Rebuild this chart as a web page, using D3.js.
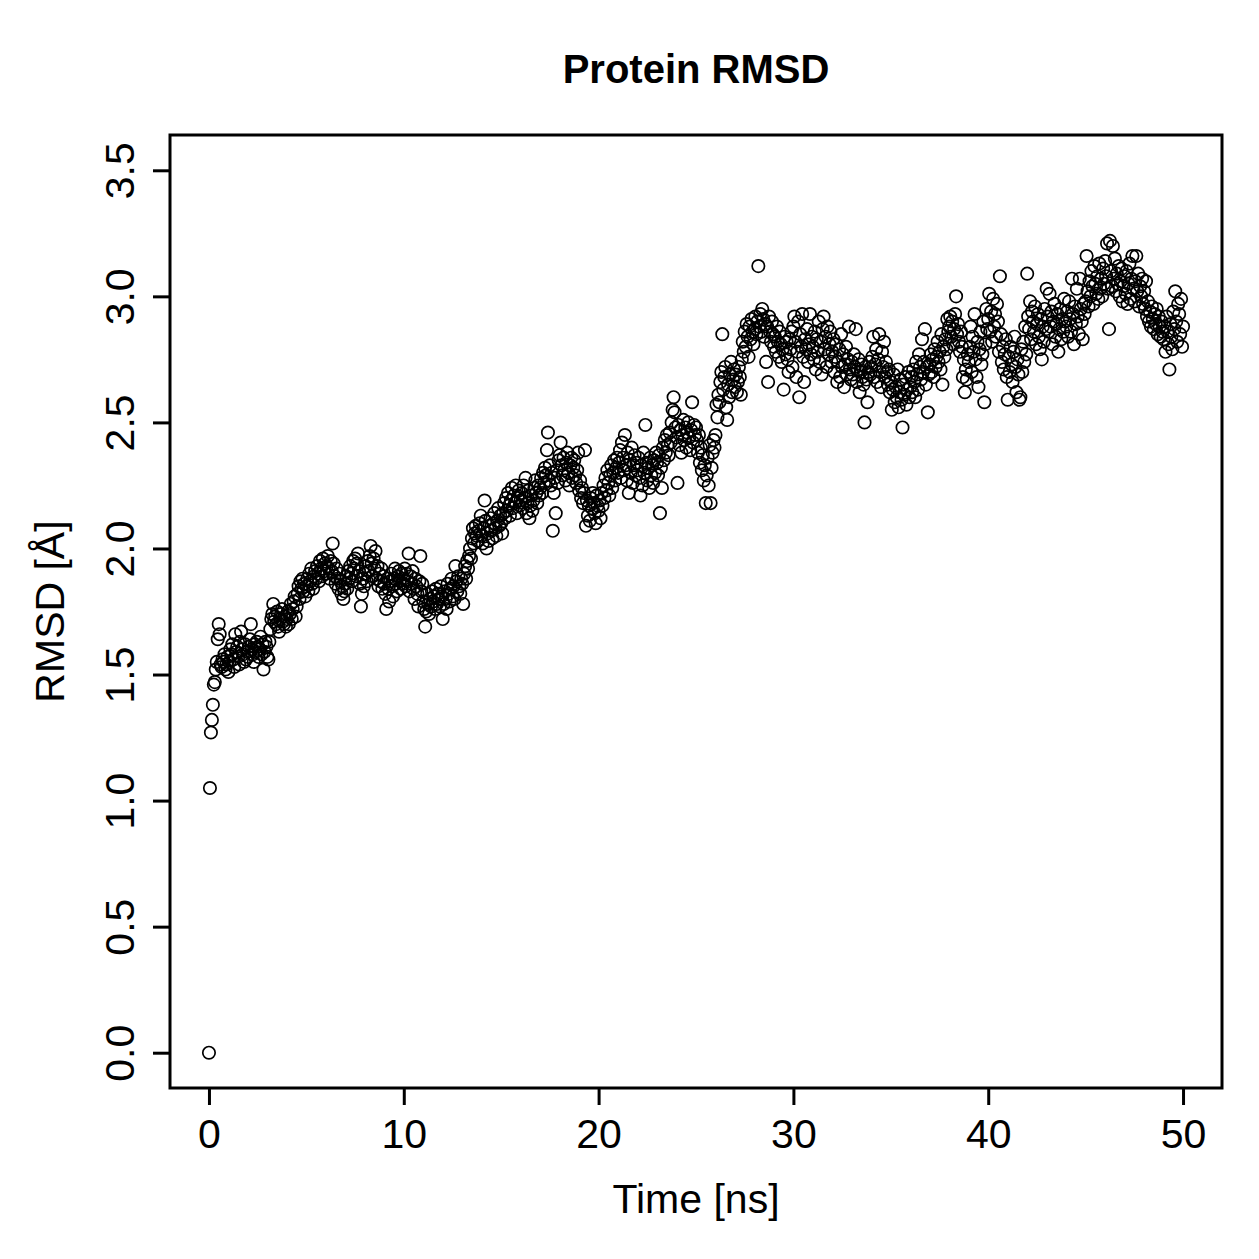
<!DOCTYPE html>
<html>
<head>
<meta charset="UTF-8">
<title>Protein RMSD</title>
<script src="https://d3js.org/d3.v7.min.js"></script>
<style>
  body { margin: 0; background: #fff; }
  text { font-family: "Liberation Sans", Arial, Helvetica, sans-serif; fill: #000; }
</style>
</head>
<body>
<div id="chart"></div>
<script>
// trajectory sampled every 0.05 ns, one row per nanosecond
const dt = 0.05;
const rmsd = [
  0.00,1.05,1.27,1.32,1.38,1.46,1.47,1.52,1.55,1.64,1.70,1.66,1.54,1.53,1.56,1.55,1.58,1.52,1.54,1.57,
  1.51,1.55,1.60,1.58,1.62,1.56,1.53,1.66,1.59,1.61,1.57,1.54,1.63,1.67,1.60,1.58,1.55,1.62,1.56,1.59,
  1.57,1.61,1.64,1.70,1.60,1.58,1.55,1.62,1.59,1.63,1.61,1.57,1.60,1.65,1.58,1.62,1.52,1.59,1.63,1.61,
  1.57,1.56,1.63,1.68,1.72,1.74,1.78,1.71,1.73,1.70,1.75,1.69,1.67,1.72,1.74,1.76,1.71,1.70,1.73,1.69,
  1.72,1.75,1.70,1.74,1.78,1.72,1.76,1.79,1.81,1.73,1.77,1.82,1.85,1.80,1.87,1.84,1.88,1.83,1.86,1.81,
  1.85,1.88,1.83,1.90,1.87,1.92,1.86,1.84,1.89,1.91,1.88,1.93,1.90,1.87,1.95,1.92,1.89,1.96,1.91,1.94,
  1.90,1.93,1.97,1.92,1.88,1.95,1.91,2.02,1.94,1.89,1.86,1.92,1.88,1.84,1.90,1.87,1.82,1.85,1.80,1.83,
  1.86,1.89,1.84,1.91,1.88,1.93,1.90,1.87,1.95,1.92,1.96,1.89,1.94,1.98,1.91,1.86,1.77,1.82,1.88,1.85,
  1.90,1.93,1.87,1.95,1.91,1.97,2.01,1.94,1.89,1.96,1.92,1.99,1.88,1.93,1.85,1.90,1.87,1.92,1.84,1.89,
  1.86,1.82,1.76,1.88,1.84,1.79,1.87,1.90,1.85,1.81,1.88,1.92,1.86,1.83,1.89,1.91,1.87,1.84,1.90,1.86,
  1.88,1.92,1.85,1.90,1.87,1.98,1.83,1.89,1.86,1.91,1.84,1.80,1.88,1.85,1.82,1.77,1.87,1.97,1.83,1.86,
  1.79,1.76,1.69,1.75,1.82,1.78,1.74,1.80,1.77,1.83,1.79,1.81,1.76,1.84,1.78,1.82,1.80,1.77,1.85,1.81,
  1.72,1.78,1.83,1.80,1.76,1.86,1.82,1.79,1.84,1.88,1.81,1.85,1.80,1.93,1.87,1.83,1.89,1.85,1.82,1.88,
  1.86,1.78,1.90,1.93,1.88,1.95,1.92,1.97,2.00,1.96,2.04,2.08,2.02,2.06,2.09,2.05,2.03,2.07,2.10,2.13,
  2.05,2.02,2.08,2.19,2.11,2.00,2.06,2.03,2.09,2.12,2.07,2.04,2.10,2.14,2.08,2.05,2.11,2.16,2.09,2.13,
  2.10,2.06,2.14,2.18,2.12,2.20,2.15,2.22,2.17,2.13,2.19,2.24,2.16,2.21,2.18,2.25,2.14,2.20,2.23,2.17,
  2.19,2.22,2.16,2.25,2.20,2.28,2.14,2.18,2.23,2.12,2.17,2.21,2.15,2.19,2.24,2.27,2.22,2.18,2.25,2.21,
  2.24,2.28,2.22,2.30,2.26,2.32,2.29,2.39,2.46,2.27,2.33,2.25,2.30,2.07,2.22,2.28,2.14,2.31,2.26,2.35,
  2.37,2.42,2.33,2.29,2.36,2.31,2.27,2.34,2.38,2.30,2.25,2.33,2.36,2.28,2.32,2.35,2.29,2.26,2.31,2.38,
  2.23,2.27,2.20,2.24,2.18,2.22,2.39,2.09,2.19,2.13,2.17,2.11,2.20,2.16,2.22,2.18,2.14,2.10,2.21,2.17,
  2.15,2.19,2.12,2.22,2.17,2.25,2.20,2.28,2.23,2.31,2.26,2.21,2.29,2.33,2.24,2.30,2.35,2.27,2.32,2.36,
  2.30,2.34,2.39,2.28,2.42,2.36,2.31,2.45,2.33,2.27,2.38,2.22,2.35,2.30,2.40,2.26,2.33,2.37,2.29,2.34,
  2.31,2.36,2.28,2.21,2.33,2.25,2.38,2.30,2.49,2.34,2.27,2.32,2.24,2.36,2.29,2.33,2.26,2.35,2.30,2.38,
  2.34,2.29,2.37,2.14,2.32,2.24,2.40,2.35,2.43,2.38,2.45,2.41,2.37,2.46,2.42,2.50,2.55,2.60,2.54,2.48,
  2.44,2.26,2.49,2.41,2.47,2.38,2.45,2.51,2.43,2.48,2.40,2.46,2.50,2.44,2.39,2.47,2.58,2.42,2.49,2.45,
  2.48,2.43,2.38,2.45,2.34,2.40,2.31,2.37,2.27,2.33,2.18,2.29,2.36,2.25,2.41,2.18,2.32,2.38,2.43,2.40,
  2.45,2.57,2.52,2.61,2.58,2.66,2.70,2.85,2.63,2.68,2.72,2.56,2.51,2.65,2.60,2.69,2.74,2.62,2.67,2.71,
  2.64,2.69,2.62,2.66,2.72,2.68,2.61,2.75,2.82,2.78,2.86,2.80,2.89,2.84,2.76,2.88,2.83,2.91,2.86,2.81,
  2.87,2.92,2.85,2.90,3.12,2.88,2.93,2.86,2.95,2.91,2.84,2.89,2.74,2.88,2.66,2.92,2.86,2.82,2.90,2.85,
  2.80,2.84,2.78,2.88,2.82,2.76,2.86,2.81,2.74,2.79,2.63,2.84,2.77,2.82,2.75,2.70,2.83,2.79,2.86,2.72,
  2.88,2.92,2.82,2.68,2.78,2.90,2.60,2.85,2.80,2.93,2.76,2.66,2.83,2.79,2.87,2.74,2.81,2.93,2.77,2.84,
  2.80,2.75,2.86,2.71,2.83,2.78,2.90,2.74,2.82,2.69,2.87,2.92,2.79,2.84,2.72,2.88,2.77,2.81,2.86,2.74,
  2.78,2.83,2.70,2.76,2.81,2.66,2.74,2.79,2.68,2.85,2.72,2.77,2.64,2.73,2.80,2.69,2.75,2.88,2.71,2.67,
  2.74,2.69,2.77,2.72,2.87,2.66,2.71,2.75,2.62,2.70,2.73,2.68,2.65,2.50,2.72,2.67,2.58,2.70,2.74,2.69,
  2.72,2.76,2.84,2.68,2.73,2.79,2.66,2.75,2.85,2.70,2.64,2.78,2.72,2.82,2.68,2.74,2.70,2.65,2.71,2.62,
  2.66,2.55,2.63,2.69,2.58,2.64,2.60,2.71,2.56,2.62,2.67,2.59,2.48,2.65,2.61,2.68,2.57,2.63,2.70,2.60,
  2.64,2.68,2.62,2.71,2.66,2.60,2.74,2.69,2.63,2.77,2.72,2.67,2.83,2.70,2.74,2.87,2.65,2.72,2.54,2.69,
  2.73,2.77,2.70,2.75,2.68,2.79,2.72,2.76,2.82,2.74,2.78,2.71,2.85,2.65,2.80,2.76,2.83,2.79,2.91,2.86,
  2.88,2.92,2.84,2.90,2.81,2.87,2.93,3.00,2.85,2.89,2.82,2.78,2.86,2.80,2.68,2.75,2.62,2.71,2.67,2.77,
  2.74,2.80,2.88,2.70,2.84,2.78,2.93,2.75,2.68,2.82,2.64,2.79,2.86,2.73,2.77,2.90,2.58,2.81,2.95,2.87,
  2.91,3.01,2.86,2.94,2.82,2.99,2.88,2.93,2.84,2.97,2.90,2.78,3.08,2.85,2.74,2.80,2.71,2.77,2.83,2.68,
  2.59,2.76,2.70,2.80,2.73,2.66,2.78,2.84,2.72,2.62,2.75,2.69,2.59,2.60,2.79,2.70,2.82,2.74,2.88,2.77,
  3.09,2.92,2.87,2.98,2.83,2.94,2.90,2.86,2.96,2.81,2.89,2.93,2.84,2.79,2.91,2.75,2.88,2.82,2.95,2.87,
  3.03,2.92,2.86,3.01,2.88,2.94,2.81,2.90,2.97,2.84,2.89,2.93,2.78,2.87,2.95,2.83,2.91,2.86,2.99,2.90,
  2.88,2.94,2.84,2.98,2.91,2.86,3.07,2.93,2.81,2.96,2.89,3.03,2.92,2.85,3.07,2.95,2.90,2.83,2.97,2.93,
  2.98,3.16,3.02,2.96,3.06,3.00,3.10,3.04,2.97,3.12,3.05,3.01,3.08,2.99,3.13,3.03,3.07,3.00,3.11,3.05,
  3.14,3.08,3.21,3.03,2.87,3.22,3.10,3.04,3.20,3.07,3.15,3.02,3.09,3.05,3.12,3.00,3.06,3.11,2.98,3.04,
  3.08,3.01,3.10,2.97,3.05,3.13,2.99,3.07,3.16,3.03,2.98,3.06,3.16,3.02,3.09,2.96,3.04,3.00,3.07,2.97,
  3.02,2.95,3.06,2.92,2.98,2.90,2.94,2.88,2.96,2.91,2.87,2.93,2.89,2.95,2.85,2.92,2.88,2.84,2.90,2.86,
  2.83,2.88,2.78,2.92,2.86,2.81,2.71,2.89,2.84,2.79,2.94,2.87,3.02,2.90,2.82,2.97,2.93,2.85,2.99,2.80,
  2.88
];
const xTicks = [0, 10, 20, 30, 40, 50];
const yTicks = [0, 0.5, 1, 1.5, 2, 2.5, 3, 3.5];
const xRange = [0, 50];
const yRange = [0, 3.5];

const width = 1259, height = 1259;
const plot = {left: 170, right: 1222, top: 135, bottom: 1088};

const svg = d3.select("#chart").append("svg")
  .attr("width", width).attr("height", height)
  .style("background", "#fff");

// R style: pad the data range by 4% on each side
const pad = r => { const d = (r[1] - r[0]) * 0.04; return [r[0] - d, r[1] + d]; };
const xScale = d3.scaleLinear().domain(pad(xRange)).range([plot.left, plot.right]);
const yScale = d3.scaleLinear().domain(pad(yRange)).range([plot.bottom, plot.top]);

const points = rmsd.map((v, i) => ({t: i * dt, v: v}));

svg.append("g")
  .selectAll("circle")
  .data(points)
  .join("circle")
  .attr("cx", d => xScale(d.t))
  .attr("cy", d => yScale(d.v))
  .attr("r", 6.2)
  .attr("fill", "none")
  .attr("stroke", "#000")
  .attr("stroke-width", 1.7);

// axes
const gX = svg.append("g").attr("transform", `translate(0,${plot.bottom})`)
  .call(d3.axisBottom(xScale).tickValues(xTicks).tickSize(17).tickFormat(d3.format("d")));
gX.select(".domain").remove();
gX.selectAll(".tick line").attr("stroke", "#000").attr("stroke-width", 3);
gX.selectAll(".tick text").attr("y", 60).attr("dy", null)
  .style("font-size", "41px").style("font-family", null);

const gY = svg.append("g").attr("transform", `translate(${plot.left},0)`)
  .call(d3.axisLeft(yScale).tickValues(yTicks).tickSize(17).tickFormat(d3.format(".1f")));
gY.select(".domain").remove();
gY.selectAll(".tick line").attr("stroke", "#000").attr("stroke-width", 3);
gY.selectAll(".tick text")
  .attr("x", 0).attr("y", -36).attr("dy", null)
  .attr("transform", "rotate(-90)")
  .attr("text-anchor", "middle")
  .style("font-size", "41px").style("font-family", null);

// box
svg.append("rect")
  .attr("x", plot.left).attr("y", plot.top)
  .attr("width", plot.right - plot.left).attr("height", plot.bottom - plot.top)
  .attr("fill", "none").attr("stroke", "#000").attr("stroke-width", 3);

// titles
const cx = (plot.left + plot.right) / 2, cy = (plot.top + plot.bottom) / 2;
svg.append("text").attr("x", cx).attr("y", 83)
  .attr("text-anchor", "middle").style("font-size", "40px").style("font-weight", "bold")
  .text("Protein RMSD");
svg.append("text").attr("x", cx).attr("y", 1213)
  .attr("text-anchor", "middle").style("font-size", "41px")
  .text("Time [ns]");
svg.append("text").attr("transform", `translate(64,${cy}) rotate(-90)`)
  .attr("text-anchor", "middle").style("font-size", "41px")
  .text("RMSD [Å]");
</script>
</body>
</html>
